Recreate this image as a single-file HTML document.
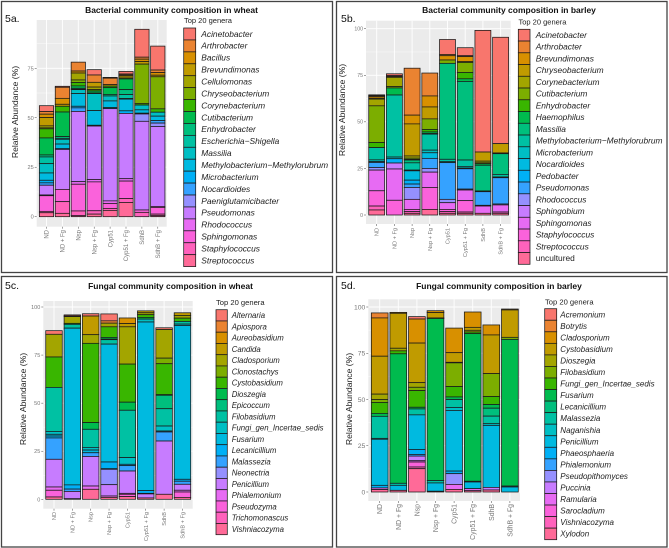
<!DOCTYPE html>
<html lang="en">
<head>
<meta charset="utf-8">
<title>Community composition charts</title>
<style>
html,body{margin:0;padding:0;background:#fff;}
#figure{display:block;width:669px;height:548px;font-family:"Liberation Sans",sans-serif;filter:blur(.3px);}
</style>
</head>
<body>
<svg id="figure" xmlns="http://www.w3.org/2000/svg" width="669" height="548" viewBox="0 0 669 548"></svg>
<script>
const categories = ["ND","ND + Fg","Nsp","Nsp + Fg","Cyp51","Cyp51 + Fg","SdhB","SdhB + Fg"];
const palette = ["#F8766D","#EA8331","#D89000","#C09B00","#A3A500","#7CAE00","#39B600","#00BB4E","#00BF7D","#00C1A3","#00BFC4","#00BAE0","#00B0F6","#35A2FF","#9590FF","#C77CFF","#E76BF3","#FA62DB","#FF62BC","#FF6A98"];

const ticksA = [0,25,50,75];
const ticksB = [0,25,50,75,100];
const ticksC = [0,25,50,75,100];
const ticksD = [0,25,50,75,100];

const generaA = ["Acinetobacter","Arthrobacter","Bacillus","Brevundimonas","Cellulomonas","Chryseobacterium","Corynebacterium","Cutibacterium","Enhydrobacter","Escherichia\u2212Shigella","Massilia","Methylobacterium\u2212Methylorubrum","Microbacterium","Nocardioides","Paeniglutamicibacter","Pseudomonas","Rhodococcus","Sphingomonas","Staphylococcus","Streptococcus"];
const generaB = ["Acinetobacter","Arthrobacter","Brevundimonas","Chryseobacterium","Corynebacterium","Cutibacterium","Enhydrobacter","Haemophilus","Massilia","Methylobacterium\u2212Methylorubrum","Microbacterium","Nocardioides","Pedobacter","Pseudomonas","Rhodococcus","Sphingobium","Sphingomonas","Staphylococcus","Streptococcus","uncultured"];
const generaC = ["Alternaria","Apiospora","Aureobasidium","Candida","Cladosporium","Clonostachys","Cystobasidium","Dioszegia","Epicoccum","Filobasidium","Fungi_gen_Incertae_sedis","Fusarium","Lecanicillium","Malassezia","Neonectria","Penicillium","Phialemonium","Pseudozyma","Trichomonascus","Vishniacozyma"];
const generaD = ["Acremonium","Botrytis","Cladosporium","Cystobasidium","Dioszegia","Filobasidium","Fungi_gen_Incertae_sedis","Fusarium","Lecanicillium","Malassezia","Naganishia","Penicillium","Phaeosphaeria","Phialemonium","Pseudopithomyces","Puccinia","Ramularia","Sarocladium","Vishniacozyma","Xylodon"];

const valuesA = [
[3,1.3,1.7,4.2,1,.5,4.6,8.6,1,3.4,4.7,3.7,1.3,1.2,0,4.9,.4,7.9,.7,2],
[.5,5.6,3,1,0,0,2.9,12.4,.9,.5,2.4,2.2,.5,0,0,20.2,0,6.2,5.9,1.7],
[0,4.5,1,0,3.5,1.3,1.7,1.2,.5,.2,2,6.4,.8,1.8,0,35.5,1.3,13.5,2.4,.5],
[2.7,3.7,0,2.4,1.3,0,.7,1,0,.3,8.6,7.4,.4,0,0,27,1.2,14.6,1.7,1.3],
[.4,3.2,0,.8,0,0,.8,3.4,.8,0,2.5,3.4,.5,0,0,46.6,1.3,2.5,1,3.2],
[1.3,.5,.5,1,0,0,.5,5.4,2.5,2,.3,5.9,1.3,0,0,33,1.2,8.8,2,7.2],
[14.1,1,1.2,1.3,0,20,.7,0,0,0,2.4,1.7,.4,0,3.7,44.8,0,1.2,2.2,0],
[12.1,1.3,1.3,.8,0,16.2,1.7,0,0,0,2,2.2,0,1.3,1.7,40.4,.5,3.4,.8,.5]
];
const valuesB = [
[.4,.5,.9,.5,3.6,19.7,2.7,0,0,6.6,.9,.5,0,2.7,1.4,0,11.1,8.2,2.1,2.7],
[1,.5,.4,0,5,.7,0,3.8,0,33.3,.9,0,2.3,0,0,3.2,16.8,7.9,0,0],
[0,25.2,4.7,17.2,1.2,.7,.3,0,1.5,3.9,.4,5,2.1,1.8,6.4,0,5.4,1.2,.9,.9],
[0,12.3,5.9,6.4,0,5.7,1.3,.9,.3,8.6,1.4,3,0,5.4,2,0,8.2,11.8,0,3],
[8,.7,2.3,0,0,1.8,0,0,51.5,1.3,.5,0,0,19.7,1.8,0,3.6,1.2,.9,.9],
[4.3,.5,2.7,.4,0,5.4,3.4,1.4,42.2,3.4,.9,.4,0,10.9,.5,0,5.7,6.1,.7,.9],
[65.3,0,0,4.9,.9,.5,0,.8,13.8,0,0,.4,0,7.3,.4,0,3.9,0,0,.9],
[57.1,0,0,5,0,0,0,.4,11.1,1.4,.4,0,0,14.1,.5,0,3.8,.7,0,.9]
];
const valuesC = [
[1.9,0,0,0,11.8,0,15.8,0,0,22.9,1.5,.9,1,11.1,0,14.4,1.7,3.5,0,1.2],
[.5,.4,0,0,3.5,0,.5,0,0,2,0,81.5,2.2,1.2,0,3.8,0,0,0,.3],
[1.2,0,0,9.7,4.5,0,41.2,3.5,0,9.4,1.4,1.4,0,1.9,0,15.4,1.7,0,0,5.2],
[3.6,1.2,0,0,1.9,0,5.5,.9,.3,2.3,0,61.3,3.5,.3,8,5.9,.7,0,0,1],
[0,0,2.9,1.7,19.4,0,19.8,4.2,0,24.6,3.5,0,.7,2.8,0,11.6,.5,1.2,0,1.4],
[0,0,0,1,1,0,1.4,.9,0,0,1.5,87.7,1.4,.3,0,2.1,0,0,0,.7],
[.9,0,0,0,14.9,2.9,16.1,.3,7,9,2.6,0,.5,4.7,0,27.7,0,0,0,2.6],
[0,0,0,1.4,1.4,0,1.7,0,0,1.4,.7,80,1,1.6,0,3.1,.9,2.8,0,1]
];
const valuesD = [
[0,2.7,20.7,20.5,2.9,1.6,5.9,1.6,0,11.9,.5,24.9,1.4,0,0,0,.9,0,0,1.3],
[0,0,.5,18.9,1.4,0,1.6,70,0,1.1,0,2.7,0,0,0,0,0,0,0,.9],
[1.3,0,13,21.4,2.5,1.8,9,.9,0,3.2,0,18.7,2.7,.9,0,2.5,.7,2.7,.9,12.6],
[0,0,1,2.9,0,0,.3,87.6,0,1.3,0,4.5,0,0,0,0,0,0,0,.4],
[0,0,13.3,5.2,.3,12.8,5.6,1.4,0,4.3,1.6,32.8,1.4,0,5.8,0,2.7,0,0,1.4],
[0,0,8.3,1.6,.9,0,.9,79.8,0,0,.4,3.6,0,0,0,0,1.1,0,0,.7],
[0,0,5.4,20.9,0,12.4,4.3,2,4.3,4.1,.9,33.5,0,0,0,1.4,0,0,0,1.1],
[0,0,.5,14.8,0,1.1,0,79.3,0,0,.5,2.7,0,0,0,0,0,0,0,0]
];

const layouts = [
 {key:"a",label:"5a.",labelX:5,labelY:22,title:"Bacterial community composition in wheat",titleX:171.5,titleY:13,titleSize:8.5,
  frame:[1.5,1.5,331,271],plot:[36.7,20,166.7,226.7],y0:216.7,pxPerUnit:1.979,x0:46.5,step:15.9,
  yTitleX:18,yTitleY:112,xLabelTop:230,tickSize:5.6,xTickSize:6,ticks:ticksA,genera:generaA,values:valuesA,
  legendTitleX:184,legendTitleY:23,legendTitleSize:7.5,swatchX:183.7,swatchW:12,swatchY:28,swatchStep:11.93,textX:201.3,textSize:8.4},
 {key:"b",label:"5b.",labelX:341,labelY:22,title:"Bacterial community composition in barley",titleX:509,titleY:13,titleSize:8.5,
  frame:[336.5,1.5,330.5,271],plot:[366,20.7,510.7,224],y0:215,pxPerUnit:1.863,x0:376.7,step:17.7,
  yTitleX:345,yTitleY:110,xLabelTop:228,tickSize:5.2,xTickSize:5.6,ticks:ticksB,genera:generaB,values:valuesB,
  legendTitleX:518.5,legendTitleY:24.5,legendTitleSize:7.5,swatchX:518.3,swatchW:11.7,swatchY:29.3,swatchStep:11.75,textX:535.7,textSize:8.4},
 {key:"c",label:"5c.",labelX:5,labelY:289,title:"Fungal community composition in wheat",titleX:170.5,titleY:289,titleSize:8.5,
  frame:[1.5,276.5,331,270.5],plot:[43.3,301,192.7,508.7],y0:499.3,pxPerUnit:1.923,x0:54,step:18.35,
  yTitleX:26,yTitleY:399,xLabelTop:512,tickSize:5.5,xTickSize:5.6,ticks:ticksC,genera:generaC,values:valuesC,
  legendTitleX:216,legendTitleY:305,legendTitleSize:7.6,swatchX:216,swatchW:11.3,swatchY:309.7,swatchStep:11.25,textX:231.7,textSize:7.8},
 {key:"d",label:"5d.",labelX:341,labelY:289,title:"Fungal community composition in barley",titleX:499,titleY:289,titleSize:8.5,
  frame:[336.5,276.5,330.5,270.5],plot:[368.3,299.3,520,501],y0:492,pxPerUnit:1.85,x0:379.7,step:18.6,
  yTitleX:352,yTitleY:399,xLabelTop:504,tickSize:6.8,xTickSize:6.9,ticks:ticksD,genera:generaD,values:valuesD,
  legendTitleX:545,legendTitleY:304.3,legendTitleSize:7.6,swatchX:544.7,swatchW:12,swatchY:308.7,swatchStep:11.55,textX:560.3,textSize:8}
];

const NS = "http://www.w3.org/2000/svg";
const svg = document.getElementById("figure");
function make(parent, tag, attrs, text) {
  const el = document.createElementNS(NS, tag);
  for (const k in attrs) el.setAttribute(k, attrs[k]);
  if (text !== undefined) el.textContent = text;
  parent.appendChild(el);
  return el;
}
function slug(s) {
  return s.toLowerCase().replace(/[^a-z0-9]+/g, "-").replace(/^-|-$/g, "");
}

layouts.forEach(function (p) {
  const yScale = function (v) { return p.y0 - v * p.pxPerUnit; };
  const xScale = function (i) { return p.x0 + i * p.step; };
  const barWidth = p.step * 0.9;
  const left = p.plot[0], top = p.plot[1], right = p.plot[2], bottom = p.plot[3];

  const g = make(svg, "g", {});
  
  

  const frame = make(g, "rect", {x:p.frame[0], y:p.frame[1], width:p.frame[2], height:p.frame[3], fill:"#fff", stroke:"#444", "stroke-width":1.3});
  
  

  const lab = make(g, "text", {x:p.labelX, y:p.labelY, "font-size":10.5, fill:"#111"}, p.label);
  
  

  const title = make(g, "text", {x:p.titleX, y:p.titleY, "font-size":p.titleSize, "font-weight":"bold", "text-anchor":"middle", fill:"#111"}, p.title);
  
  

  const bg = make(g, "rect", {x:left, y:top, width:right-left, height:bottom-top, fill:"#EBEBEB"});
  
  

  const tickStep = p.ticks[1] - p.ticks[0];
  const lastTick = p.ticks[p.ticks.length - 1];
  for (let v = -tickStep / 2; v <= lastTick + tickStep; v += tickStep) {
    const yy = yScale(v);
    if (yy <= top || yy >= bottom) continue;
    const minor = make(g, "line", {x1:left, x2:right, y1:yy, y2:yy, stroke:"#fff", "stroke-width":.4});
    
    
  }
  p.ticks.forEach(function (t) {
    const yy = yScale(t);
    const grid = make(g, "line", {x1:left, x2:right, y1:yy, y2:yy, stroke:"#fff", "stroke-width":.9});
    
    
    const tick = make(g, "line", {x1:left-2, x2:left, y1:yy, y2:yy, stroke:"#444", "stroke-width":.5});
    
    
    const tl = make(g, "text", {x:left-3, y:yy+p.tickSize*.36, "font-size":p.tickSize, "text-anchor":"end", fill:"#777"}, String(t));
    
    
  });

  categories.forEach(function (c, i) {
    const xx = xScale(i);
    const grid = make(g, "line", {x1:xx, x2:xx, y1:top, y2:bottom, stroke:"#fff", "stroke-width":.9});
    
    
    const tick = make(g, "line", {x1:xx, x2:xx, y1:bottom, y2:bottom+2, stroke:"#444", "stroke-width":.5});
    
    
    const tl = make(g, "text", {transform:"translate(" + (xx+p.xTickSize*.36) + "," + p.xLabelTop + ") rotate(-90)", "font-size":p.xTickSize, "text-anchor":"end", fill:"#777"}, c);
    
    
  });

  const yt = make(g, "text", {transform:"translate(" + p.yTitleX + "," + p.yTitleY + ") rotate(-90)", "font-size":8.6, "text-anchor":"middle", fill:"#222"}, "Relative Abundance (%)");
  
  

  p.values.forEach(function (row, i) {
    let cum = row.reduce(function (a, b) { return a + b; }, 0);
    row.forEach(function (v, k) {
      if (v <= 0) return;
      const yTop = yScale(cum);
      const yBot = yScale(cum - v);
      const seg = make(g, "rect", {x:xScale(i)-barWidth/2, y:yTop, width:barWidth, height:yBot-yTop, fill:palette[k], stroke:"#1a1a1a", "stroke-width":.75});
      
      
      cum -= v;
    });
  });

  const lt = make(g, "text", {x:p.legendTitleX, y:p.legendTitleY, "font-size":p.legendTitleSize, fill:"#222"}, "Top 20 genera");
  
  

  p.genera.forEach(function (name, k) {
    const sy = p.swatchY + k * p.swatchStep;
    const sw = make(g, "rect", {x:p.swatchX, y:sy, width:p.swatchW, height:p.swatchStep, fill:palette[k], stroke:"#1a1a1a", "stroke-width":.75});
    
    
    const italic = name === "uncultured" ? "normal" : "italic";
    const tx = make(g, "text", {x:p.textX, y:sy+p.swatchStep/2+2.8, "font-size":p.textSize, "font-style":italic, fill:"#222"}, name);
    
    
  });
});
</script>
</body>
</html>
